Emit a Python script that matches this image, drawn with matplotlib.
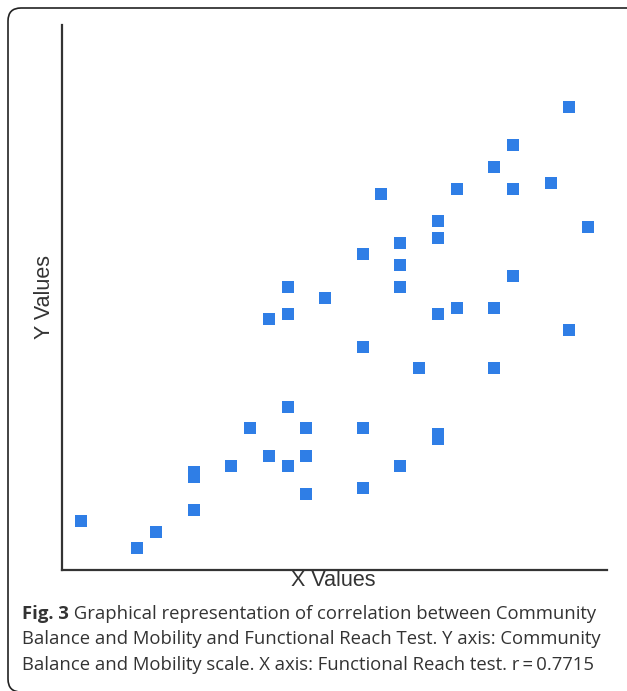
import matplotlib
matplotlib.use("Agg")
import matplotlib.pyplot as plt
from matplotlib.patches import FancyBboxPatch
from matplotlib.transforms import IdentityTransform

# Functional Reach (x) vs Community Balance and Mobility (y)
x_vals = [1, 4, 5, 7, 7, 7, 9, 10, 11, 11, 12, 12, 12, 12, 13, 13, 13, 14,
          16, 16, 16, 16, 17, 18, 18, 18, 18, 19, 20, 20, 20, 20, 20, 21, 21,
          23, 23, 23, 24, 24, 24, 26, 27, 27, 28]
y_vals = [9, 4, 7, 18, 17, 11, 19, 26, 21, 46, 52, 47, 30, 19, 26, 21, 14, 50,
          58, 41, 26, 15, 69, 60, 56, 52, 19, 37, 64, 61, 47, 25, 24, 70, 48,
          74, 48, 37, 78, 70, 54, 71, 85, 44, 63]

x_label = "X Values"
y_label = "Y Values"
caption_bold = "Fig. 3"
caption_lines = [
    " Graphical representation of correlation between Community",
    "Balance and Mobility and Functional Reach Test. Y axis: Community",
    "Balance and Mobility scale. X axis: Functional Reach test. r\u2009=\u20090.7715",
]

W, H = 627, 691
fig = plt.figure(figsize=(W / 100, H / 100), dpi=100)
fig.patch.set_facecolor("white")

ax = fig.add_axes([62 / W, 1 - 570 / H, 545 / W, 545 / H])
ax.scatter(x_vals, y_vals, marker="s", s=68, color="#2f7ee6", linewidths=0,
           zorder=3, clip_on=False)
ax.set_xlim(0, 29)
ax.set_ylim(0, 100)
ax.set_xticks([])
ax.set_yticks([])
for side in ["top", "right"]:
    ax.spines[side].set_visible(False)
for side in ["left", "bottom"]:
    ax.spines[side].set_color("#333333")
    ax.spines[side].set_linewidth(1.6)

fig.text(333 / W, 1 - 581 / H, x_label, ha="center", va="center",
         fontsize=15.5, color="#333333", family="Liberation Sans")
fig.text(44 / W, 1 - 297 / H, y_label, ha="center", va="center",
         rotation=90, fontsize=15.5, color="#333333", family="Liberation Sans")

# rounded frame round the whole figure, right and bottom edges just outside
frame = FancyBboxPatch((8, -1), 650, H - 7,
                       boxstyle="round,pad=0,rounding_size=13",
                       transform=IdentityTransform(), facecolor="none",
                       edgecolor="#222222", linewidth=1.2)
fig.patches.append(frame)

cap_kw = dict(fontsize=13.3, color="#333333", family="Open Sans", va="baseline")
x0 = 22
base = [619, 644.5, 670]
t = fig.text(x0 / W, 1 - base[0] / H, caption_bold, fontweight="bold", **cap_kw)
fig.canvas.draw()
bb = t.get_window_extent()
fig.text(bb.x1 / W, 1 - base[0] / H, caption_lines[0], **cap_kw)
for line, b in zip(caption_lines[1:], base[1:]):
    fig.text(x0 / W, 1 - b / H, line, **cap_kw)

fig.savefig("out.png", dpi=100)
